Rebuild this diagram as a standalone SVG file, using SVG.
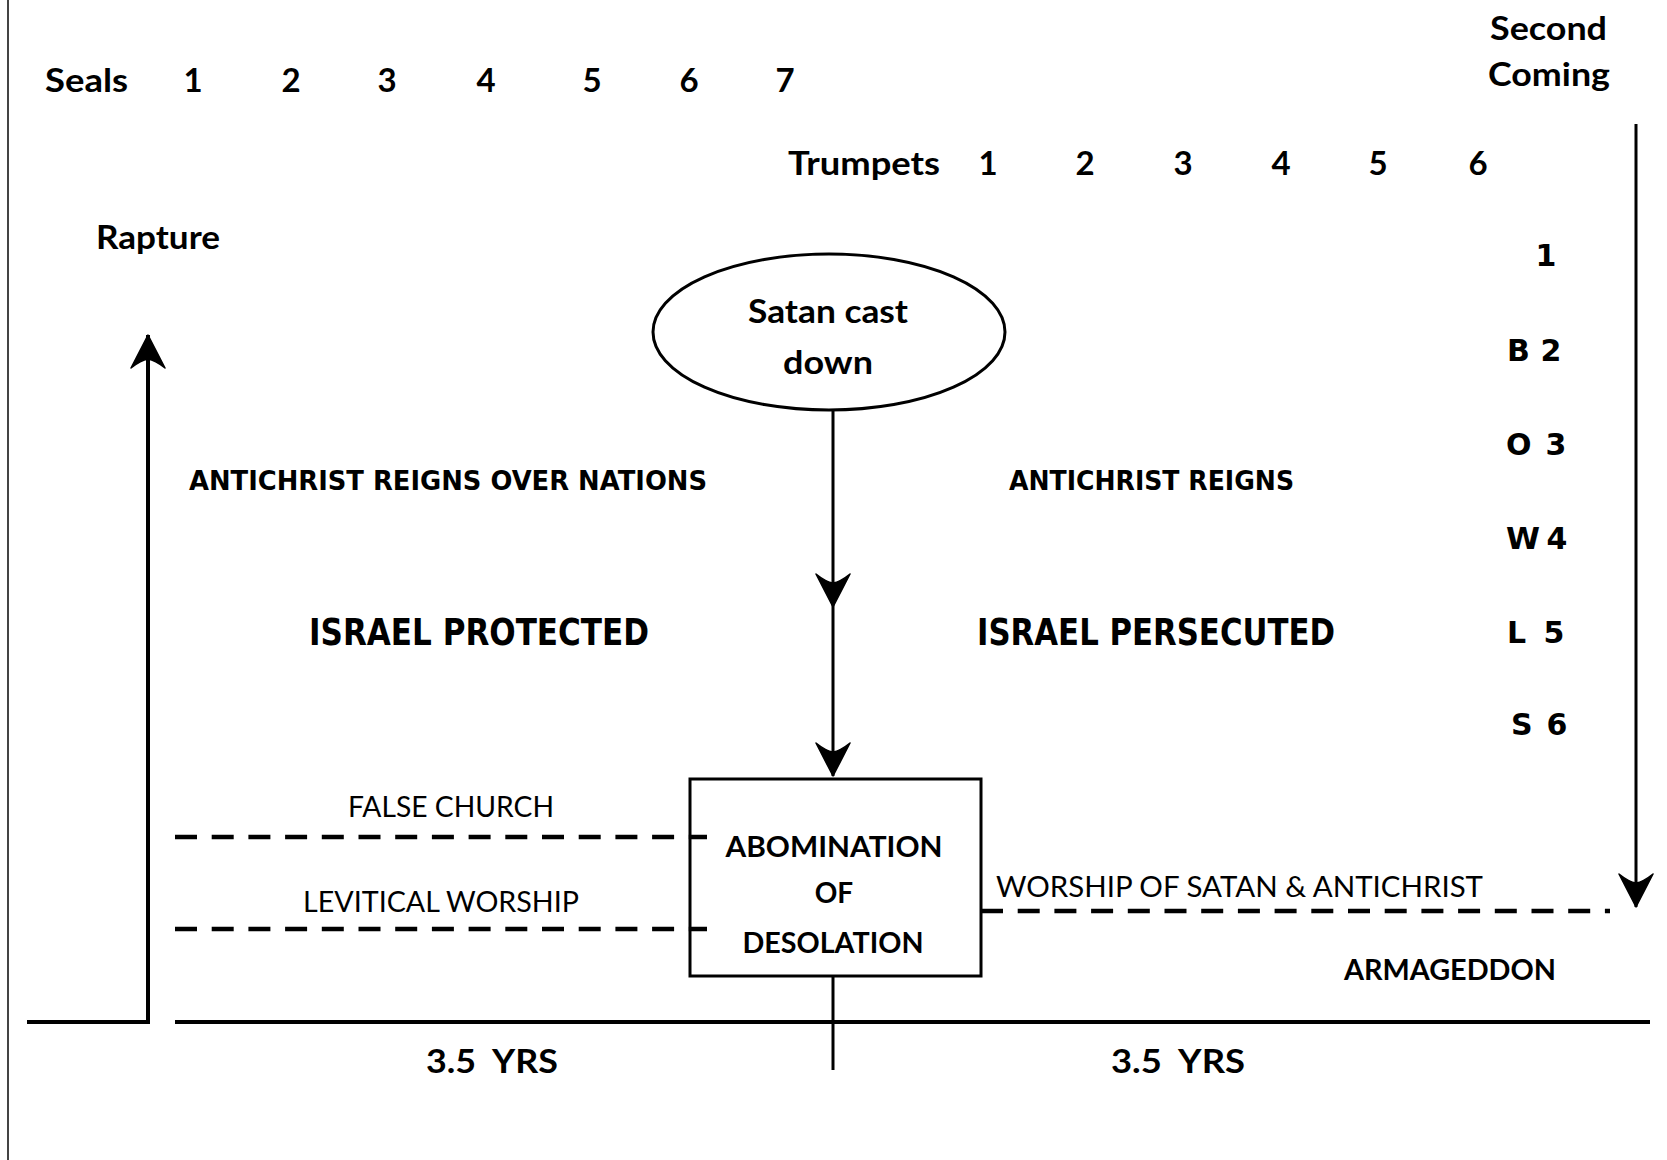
<svg xmlns="http://www.w3.org/2000/svg" width="1667" height="1160" viewBox="0 0 1667 1160">
<style>
.c{font-family:Lato,"Liberation Sans",sans-serif;font-weight:bold;fill:#000}
.cr{font-family:Lato,"Liberation Sans",sans-serif;font-weight:normal;fill:#000}
.t{font-family:"DejaVu Sans","Liberation Sans",sans-serif;font-weight:bold;fill:#000}
.m{text-anchor:middle}
.ln{stroke:#000;fill:none}
.dash{stroke:#000;stroke-width:4.5;stroke-dasharray:22 14.7;fill:none}
</style>
<defs>
<marker id="dart" markerUnits="userSpaceOnUse" markerWidth="40" markerHeight="40" viewBox="-34 -20 40 40" refX="0" refY="0" orient="auto">
<path d="M0,0 L-33,-17 Q-25,-7 -24,0 Q-25,7 -33,17 Z" fill="#000" stroke="#000" stroke-width="1.5" stroke-linejoin="round"/>
</marker>
</defs>
<rect width="1667" height="1160" fill="#fff"/>
<line x1="8" y1="0" x2="8" y2="1160" stroke="#444" stroke-width="2"/>

<g id="seals">
<text class="c" x="45" y="92" font-size="33" textLength="83" lengthAdjust="spacingAndGlyphs">Seals</text>
<text class="c m" x="193" y="92" font-size="33">1</text>
<text class="c m" x="291" y="92" font-size="33">2</text>
<text class="c m" x="387" y="92" font-size="33">3</text>
<text class="c m" x="486" y="92" font-size="33">4</text>
<text class="c m" x="592" y="92" font-size="33">5</text>
<text class="c m" x="689" y="92" font-size="33">6</text>
<text class="c m" x="785" y="92" font-size="33">7</text>
</g>

<g id="trumpets">
<text class="c" x="788" y="175" font-size="33" textLength="152" lengthAdjust="spacingAndGlyphs">Trumpets</text>
<text class="c m" x="988" y="175" font-size="33">1</text>
<text class="c m" x="1085" y="175" font-size="33">2</text>
<text class="c m" x="1183" y="175" font-size="33">3</text>
<text class="c m" x="1281" y="175" font-size="33">4</text>
<text class="c m" x="1378" y="175" font-size="33">5</text>
<text class="c m" x="1478" y="175" font-size="33">6</text>
</g>

<g id="second-coming">
<text class="c" x="1490" y="40" font-size="33" textLength="117" lengthAdjust="spacingAndGlyphs">Second</text>
<text class="c" x="1488" y="86" font-size="33" textLength="122" lengthAdjust="spacingAndGlyphs">Coming</text>
</g>

<g id="rapture">
<text class="c" x="96" y="249" font-size="33" textLength="124" lengthAdjust="spacingAndGlyphs">Rapture</text>
</g>

<g id="bowls">
<text class="t m" x="1546" y="266" font-size="30">1</text>
<text class="t" x="1507" y="361" font-size="30">B</text><text class="t m" x="1551" y="361" font-size="30">2</text>
<text class="t" x="1506" y="455" font-size="30">O</text><text class="t m" x="1556" y="455" font-size="30">3</text>
<text class="t" x="1506" y="549" font-size="30" textLength="34" lengthAdjust="spacingAndGlyphs">W</text><text class="t m" x="1557" y="549" font-size="30">4</text>
<text class="t" x="1507" y="643" font-size="30">L</text><text class="t m" x="1554" y="643" font-size="30">5</text>
<text class="t" x="1511" y="735" font-size="30">S</text><text class="t m" x="1557" y="735" font-size="30">6</text>
</g>

<g id="satan-cast-down">
<ellipse cx="829" cy="332" rx="176" ry="78" fill="#fff" stroke="#000" stroke-width="3"/>
<text class="c m" x="828" y="323" font-size="33" textLength="160" lengthAdjust="spacingAndGlyphs">Satan cast</text>
<text class="c m" x="828" y="374" font-size="33" textLength="90" lengthAdjust="spacingAndGlyphs">down</text>
</g>

<g id="left-half">
<text class="t" x="189" y="490" font-size="27" textLength="518" lengthAdjust="spacingAndGlyphs">ANTICHRIST REIGNS OVER NATIONS</text>
<text class="t" x="309" y="645" font-size="38" textLength="340" lengthAdjust="spacingAndGlyphs">ISRAEL PROTECTED</text>
</g>

<g id="right-half">
<text class="t" x="1009" y="490" font-size="27" textLength="285" lengthAdjust="spacingAndGlyphs">ANTICHRIST REIGNS</text>
<text class="t" x="977" y="645" font-size="38" textLength="358" lengthAdjust="spacingAndGlyphs">ISRAEL PERSECUTED</text>
</g>

<g id="false-church">
<text class="cr" x="348" y="817" font-size="28" textLength="206" lengthAdjust="spacingAndGlyphs">FALSE CHURCH</text>
</g>
<g id="levitical-worship">
<text class="cr" x="303" y="912" font-size="28" textLength="276" lengthAdjust="spacingAndGlyphs">LEVITICAL WORSHIP</text>
</g>
<g id="worship-satan">
<text class="cr" x="996" y="897" font-size="29" textLength="487" lengthAdjust="spacingAndGlyphs">WORSHIP OF SATAN &amp; ANTICHRIST</text>
</g>
<g id="armageddon">
<text class="c" x="1344" y="980" font-size="28" textLength="212" lengthAdjust="spacingAndGlyphs">ARMAGEDDON</text>
</g>

<g id="abomination">
<rect x="690" y="779" width="291" height="197" fill="#fff" stroke="#000" stroke-width="3"/>
<text class="c m" x="834" y="857" font-size="28" textLength="217" lengthAdjust="spacingAndGlyphs">ABOMINATION</text>
<text class="c m" x="834" y="903" font-size="28">OF</text>
<text class="c m" x="833" y="953" font-size="28" textLength="181" lengthAdjust="spacingAndGlyphs">DESOLATION</text>
</g>

<g id="years">
<text class="c" x="426" y="1073" font-size="32" textLength="132" lengthAdjust="spacingAndGlyphs">3.5&#160; YRS</text>
<text class="c" x="1111" y="1073" font-size="32" textLength="134" lengthAdjust="spacingAndGlyphs">3.5&#160; YRS</text>
</g>

<g id="connectors">
<path class="ln" stroke-width="3" d="M833,410 L833,607 L833,776" marker-mid="url(#dart)" marker-end="url(#dart)"/>
<path class="ln" stroke-width="4" d="M27,1022 L148,1022 L148,335" marker-end="url(#dart)"/>
<path class="ln" stroke-width="3" d="M1636,124 L1636,907" marker-end="url(#dart)"/>
<line class="ln" stroke-width="4" x1="175" y1="1022" x2="1650" y2="1022"/>
<line class="ln" stroke-width="3" x1="833" y1="976" x2="833" y2="1070"/>
<line class="dash" x1="175" y1="837" x2="707" y2="837"/>
<line class="dash" x1="175" y1="929" x2="707" y2="929"/>
<line class="dash" x1="981" y1="911" x2="1610" y2="911"/>
</g>
</svg>
